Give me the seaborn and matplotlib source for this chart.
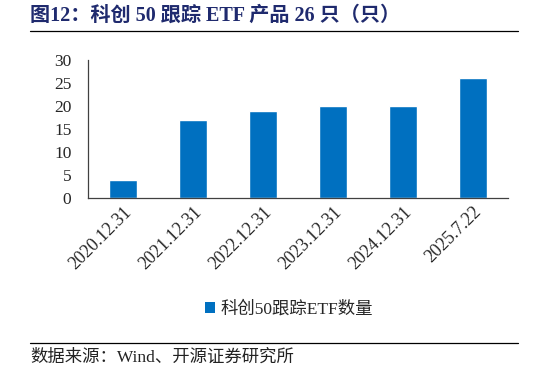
import matplotlib
matplotlib.use("Agg")
import matplotlib.pyplot as plt
import seaborn as sns
import pandas as pd
from matplotlib.lines import Line2D
from matplotlib.patches import Patch

categories = ["2020.12.31", "2021.12.31", "2022.12.31", "2023.12.31", "2024.12.31", "2025.7.22"]
values = [4, 17, 19, 20, 20, 26]
series_name = "科创50跟踪ETF数量"
yticks = [0, 5, 10, 15, 20, 25, 30]

sns.set_style("white")
plt.rcParams['font.family'] = ['Liberation Serif', 'Noto Sans CJK SC']
plt.rcParams['axes.unicode_minus'] = False

df = pd.DataFrame({"date": categories, "count": values})

fig = plt.figure(figsize=(5.46, 3.74), dpi=100)
ax = fig.add_axes([88/546, 1-198/374, 420/546, 138/374])
sns.barplot(data=df, x="date", y="count", color="#0070C0", width=0.4, ax=ax, saturation=1)

ax.set_ylim(0, 30)
ax.set_xlim(-0.5, len(categories)-0.5)
ax.set_yticks(yticks)
ax.set_xlabel("")
ax.set_ylabel("")
for s in ["top", "right"]:
    ax.spines[s].set_visible(False)
for s in ["left", "bottom"]:
    ax.spines[s].set_color("#404040")
    ax.spines[s].set_linewidth(0.9)
ax.tick_params(axis="y", direction="out", length=4, width=0.9, color="#404040", labelsize=12.5, pad=8)
ax.tick_params(axis="x", which="major", length=0, labelsize=13, pad=4)
ax.set_xticks([i - 0.5 for i in range(len(categories)+1)], minor=True)
ax.tick_params(axis="x", which="minor", direction="out", length=4, width=0.9, color="#404040")
for lab in ax.get_xticklabels():
    lab.set_rotation(45)
    lab.set_ha("right")
    lab.set_rotation_mode("anchor")

handles = [Patch(facecolor="#0070C0", edgecolor="none", label=series_name)]
fig.legend(handles=handles, loc="center", bbox_to_anchor=(289/546, 1-309/374), frameon=False,
           handlelength=0.6, handleheight=0.6, handletextpad=0.3,
           prop={'family': ['Liberation Serif', 'Noto Sans CJK SC'], 'size': 12.5})

fig.text(30/546, 1-16/374, "图12：科创 50 跟踪 ETF 产品 26 只（只）", fontsize=14.5, fontweight="bold",
         color="#1F2A6E", va="center", ha="left", family=['Liberation Serif', 'Noto Sans CJK SC'])
fig.add_artist(Line2D([30/546, 518/546], [1-31/374, 1-31/374], color="black", linewidth=0.9))
fig.add_artist(Line2D([30/546, 518/546], [1-343/374, 1-343/374], color="black", linewidth=0.9))
fig.text(30/546, 1-358/374, "数据来源：Wind、开源证券研究所", fontsize=12.5, color="#222222",
         va="center", ha="left", family=['Liberation Serif', 'Noto Sans CJK SC'])

fig.savefig("out.png", dpi=100, facecolor="white")
